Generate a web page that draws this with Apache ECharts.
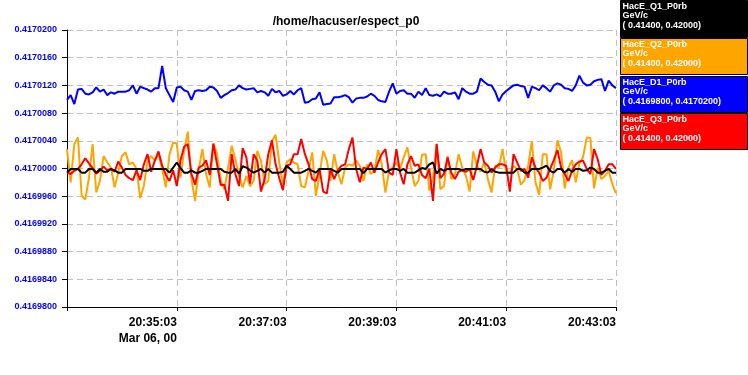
<!DOCTYPE html>
<html><head><meta charset="utf-8">
<script src="https://cdn.jsdelivr.net/npm/echarts@6/dist/echarts.min.js"></script>
<style>html,body{margin:0;padding:0;background:#fff}#c{width:748px;height:375px}</style>
</head><body><div id="c"></div>
<script>
// sample times: seconds after 20:33:03, Mar 06, 00 (4 s sampling)
const tSec = Array.from({length: 151}, (_, i) => i * 4);
const xTickTimes = ['20:33:03', '20:35:03', '20:37:03', '20:39:03', '20:41:03', '20:43:03'];
const dateLabel = 'Mar 06, 00';
const titleText = '/home/hacuser/espect_p0';

const seriesNames = ['HacE_Q1_P0rb', 'HacE_Q2_P0rb', 'HacE_D1_P0rb', 'HacE_Q3_P0rb'];
const seriesUnits = ['GeV/c', 'GeV/c', 'GeV/c', 'GeV/c'];
const seriesRanges = ['( 0.41400, 0.42000)', '( 0.41400, 0.42000)', '( 0.4169800, 0.4170200)', '( 0.41400, 0.42000)'];
const seriesColors = ['#000000', '#ffa500', '#0000ff', '#ff0000'];

const dAxisMin = 0.41698, dAxisMax = 0.41702, dAxisStep = 0.000004;
const qAxisMin = 0.414, qAxisMax = 0.420;

// HacE_Q1_P0rb (black)
const q1 = [
0.41691,0.41699,0.41699,0.41699,0.41691,0.41691,0.41699,0.41699,0.41691,0.41699,0.41693,0.41693,0.41699,0.41696,0.41691,0.41691,0.41699,0.41699,0.41699,0.41699,0.41699,0.41695,0.41695,0.41699,0.41699,0.41699,0.41699,0.41699,0.41691,0.41702,
0.41713,0.41701,0.41691,0.41691,0.41696,0.41691,0.41691,0.41695,0.41699,0.41699,0.41699,0.41699,0.41699,0.41693,0.41691,0.41691,0.41699,0.41689,0.41705,0.41702,0.41696,0.41691,0.41695,0.41699,0.41691,0.41699,0.41691,0.41691,0.41691,0.41693,
0.41706,0.41699,0.41691,0.41691,0.41691,0.41695,0.41699,0.41695,0.41691,0.41699,0.41699,0.41699,0.41699,0.41695,0.41691,0.41699,0.41699,0.41699,0.41699,0.41699,0.41699,0.41690,0.41699,0.41699,0.41699,0.41699,0.41699,0.41691,0.41696,0.41699,
0.41699,0.41695,0.41699,0.41691,0.41691,0.41691,0.41696,0.41701,0.41699,0.41709,0.41713,0.41689,0.41699,0.41695,0.41699,0.41699,0.41699,0.41699,0.41696,0.41699,0.41699,0.41699,0.41699,0.41699,0.41693,0.41691,0.41699,0.41693,0.41691,0.41691,
0.41691,0.41691,0.41691,0.41699,0.41699,0.41691,0.41691,0.41699,0.41699,0.41699,0.41702,0.41706,0.41695,0.41691,0.41699,0.41699,0.41691,0.41699,0.41693,0.41699,0.41699,0.41695,0.41696,0.41702,0.41699,0.41691,0.41691,0.41695,0.41699,0.41691,0.41691
];
// HacE_Q2_P0rb (orange)
const q2 = [
0.41742,0.41670,0.41753,0.41767,0.41641,0.41633,0.41680,0.41753,0.41648,0.41673,0.41727,0.41713,0.41702,0.41659,0.41691,0.41727,0.41735,0.41709,0.41713,0.41699,0.41636,0.41662,0.41717,0.41727,0.41717,0.41731,0.41699,0.41659,0.41731,0.41756,
0.41754,0.41680,0.41738,0.41780,0.41677,0.41630,0.41699,0.41742,0.41688,0.41659,0.41754,0.41731,0.41675,0.41655,0.41702,0.41749,0.41720,0.41684,0.41659,0.41684,0.41662,0.41673,0.41738,0.41717,0.41666,0.41673,0.41759,0.41773,0.41713,0.41666,
0.41713,0.41720,0.41713,0.41709,0.41662,0.41659,0.41695,0.41735,0.41641,0.41688,0.41738,0.41717,0.41673,0.41731,0.41691,0.41666,0.41702,0.41709,0.41706,0.41717,0.41706,0.41673,0.41709,0.41688,0.41695,0.41740,0.41709,0.41648,0.41695,0.41702,
0.41713,0.41699,0.41724,0.41746,0.41702,0.41662,0.41673,0.41730,0.41731,0.41652,0.41680,0.41754,0.41655,0.41662,0.41727,0.41677,0.41688,0.41731,0.41701,0.41684,0.41650,0.41737,0.41706,0.41693,0.41713,0.41677,0.41648,0.41706,0.41702,0.41742,
0.41691,0.41691,0.41706,0.41699,0.41665,0.41675,0.41706,0.41759,0.41670,0.41643,0.41731,0.41731,0.41655,0.41695,0.41761,0.41735,0.41657,0.41702,0.41718,0.41670,0.41711,0.41725,0.41767,0.41766,0.41657,0.41701,0.41677,0.41684,0.41695,0.41666,0.41646
];
// HacE_D1_P0rb (blue)
const d1 = [
0.4170099,0.4170106,0.4170093,0.4170114,0.4170115,0.4170108,0.4170107,0.4170110,0.4170117,0.4170111,0.4170114,0.4170106,0.4170110,0.4170108,0.4170111,0.4170111,0.4170111,0.4170113,0.4170120,0.4170108,0.4170118,0.4170116,0.4170114,0.4170111,0.4170116,0.4170116,0.4170148,0.4170116,0.4170106,0.4170096,
0.4170117,0.4170118,0.4170113,0.4170111,0.4170099,0.4170112,0.4170113,0.4170112,0.4170113,0.4170118,0.4170117,0.4170112,0.4170102,0.4170106,0.4170109,0.4170113,0.4170114,0.4170120,0.4170116,0.4170114,0.4170115,0.4170116,0.4170110,0.4170112,0.4170110,0.4170105,0.4170115,0.4170110,0.4170112,0.4170105,
0.4170107,0.4170112,0.4170107,0.4170113,0.4170116,0.4170095,0.4170096,0.4170100,0.4170101,0.4170110,0.4170092,0.4170093,0.4170094,0.4170103,0.4170103,0.4170104,0.4170106,0.4170103,0.4170095,0.4170101,0.4170102,0.4170102,0.4170104,0.4170108,0.4170105,0.4170099,0.4170097,0.4170096,0.4170111,0.4170123,
0.4170108,0.4170112,0.4170113,0.4170108,0.4170108,0.4170102,0.4170111,0.4170106,0.4170116,0.4170106,0.4170105,0.4170107,0.4170104,0.4170111,0.4170108,0.4170108,0.4170110,0.4170100,0.4170116,0.4170111,0.4170108,0.4170108,0.4170111,0.4170130,0.4170125,0.4170121,0.4170120,0.4170111,0.4170097,0.4170107,
0.4170112,0.4170116,0.4170120,0.4170121,0.4170119,0.4170118,0.4170102,0.4170118,0.4170116,0.4170113,0.4170120,0.4170116,0.4170111,0.4170120,0.4170123,0.4170121,0.4170116,0.4170115,0.4170112,0.4170120,0.4170134,0.4170124,0.4170120,0.4170121,0.4170126,0.4170128,0.4170129,0.4170112,0.4170127,0.4170120,0.4170116
];
// HacE_Q3_P0rb (red)
const q3 = [
0.41691,0.41688,0.41695,0.41699,0.41709,0.41722,0.41711,0.41701,0.41689,0.41695,0.41704,0.41696,0.41699,0.41693,0.41715,0.41702,0.41686,0.41679,0.41675,0.41696,0.41675,0.41709,0.41731,0.41693,0.41717,0.41737,0.41706,0.41686,0.41673,0.41696,
0.41662,0.41717,0.41747,0.41753,0.41688,0.41665,0.41702,0.41706,0.41718,0.41686,0.41754,0.41709,0.41664,0.41665,0.41630,0.41731,0.41688,0.41662,0.41744,0.41724,0.41667,0.41731,0.41717,0.41650,0.41677,0.41731,0.41761,0.41709,0.41679,0.41653,
0.41706,0.41709,0.41731,0.41731,0.41764,0.41731,0.41709,0.41677,0.41673,0.41699,0.41650,0.41646,0.41699,0.41677,0.41696,0.41706,0.41709,0.41742,0.41767,0.41699,0.41670,0.41702,0.41699,0.41713,0.41691,0.41713,0.41731,0.41742,0.41691,0.41686,
0.41742,0.41691,0.41666,0.41709,0.41727,0.41706,0.41709,0.41686,0.41679,0.41699,0.41630,0.41753,0.41679,0.41688,0.41724,0.41691,0.41677,0.41693,0.41696,0.41693,0.41699,0.41675,0.41706,0.41742,0.41713,0.41706,0.41691,0.41702,0.41709,0.41709,
0.41706,0.41650,0.41731,0.41713,0.41695,0.41699,0.41680,0.41724,0.41702,0.41691,0.41673,0.41680,0.41699,0.41718,0.41740,0.41702,0.41688,0.41673,0.41695,0.41709,0.41715,0.41717,0.41699,0.41688,0.41742,0.41720,0.41686,0.41695,0.41709,0.41709,0.41699
];

const FONT = '"Liberation Sans", Arial, sans-serif';
const pairs = arr => arr.map((v, i) => [tSec[i], v]);

const legendTops = [0, 38, 76, 113];
const legendHeights = [37, 36, 36, 36];
const graphic = seriesNames.map((name, i) => ({
  type: 'group', left: 620, top: legendTops[i],
  children: [
    {type: 'rect', shape: {x: 0, y: 0, width: 127, height: legendHeights[i]},
     style: {fill: seriesColors[i], stroke: '#000', lineWidth: 1}},
    {type: 'text', x: 2, y: 1,
     style: {text: name + '\n' + seriesUnits[i] + '\n' + seriesRanges[i],
             fill: '#fff', font: 'bold 9px ' + FONT, lineHeight: 9.5,
             verticalAlign: 'top', align: 'left'}}
  ]
}));

const chart = echarts.init(document.getElementById('c'), null, {renderer: 'canvas'});
chart.setOption({
  animation: false,
  backgroundColor: '#fff',
  title: {text: titleText, left: 341, top: 11, textAlign: 'center',
          textStyle: {fontFamily: FONT, fontSize: 12, fontWeight: 'bold', color: '#000'}},
  grid: {left: 67, right: 132, top: 30, bottom: 68},
  graphic: graphic,
  xAxis: {
    type: 'value', min: 0, max: 600, interval: 120,
    axisLine: {lineStyle: {color: '#000', width: 1}},
    axisTick: {show: true, length: 4, lineStyle: {color: '#000'}},
    splitLine: {show: true, lineStyle: {color: '#c0c0c0', type: [6, 4], width: 1}},
    axisLabel: {
      showMinLabel: true, showMaxLabel: true, margin: 8, align: 'right',
      fontFamily: FONT, fontSize: 12, fontWeight: 'bold', color: '#000', lineHeight: 16,
      formatter: v => {
        const idx = Math.round(v / 120);
        if (idx === 0) return '';
        return idx === 1 ? xTickTimes[idx] + '\n' + dateLabel : xTickTimes[idx];
      }
    }
  },
  yAxis: [{
    type: 'value', min: dAxisMin, max: dAxisMax, interval: dAxisStep,
    axisLine: {show: true, lineStyle: {color: '#000', width: 1}},
    axisTick: {show: true, length: 5, lineStyle: {color: '#000'}},
    splitLine: {show: true, lineStyle: {color: '#c0c0c0', type: [6, 4], width: 1}},
    axisLabel: {margin: 10, fontFamily: FONT, fontSize: 9, fontWeight: 'bold', color: '#0000ff',
                formatter: v => v.toFixed(7)}
  }, {
    type: 'value', min: qAxisMin, max: qAxisMax, show: false,
    splitLine: {show: false}
  }],
  series: [
    {name: seriesNames[1], type: 'line', yAxisIndex: 1, data: pairs(q2), showSymbol: false,
     lineStyle: {color: seriesColors[1], width: 2}, z: 2},
    {name: seriesNames[3], type: 'line', yAxisIndex: 1, data: pairs(q3), showSymbol: false,
     lineStyle: {color: seriesColors[3], width: 2}, z: 3},
    {name: seriesNames[2], type: 'line', yAxisIndex: 0, data: pairs(d1), showSymbol: false,
     lineStyle: {color: seriesColors[2], width: 2}, z: 4},
    {name: seriesNames[0], type: 'line', yAxisIndex: 1, data: pairs(q1), showSymbol: false,
     lineStyle: {color: seriesColors[0], width: 2}, z: 5}
  ]
});
</script></body></html>
